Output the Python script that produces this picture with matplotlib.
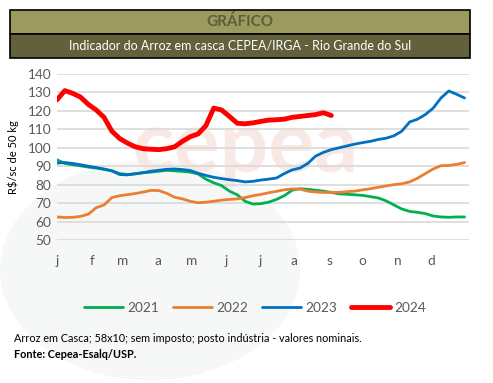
import numpy as np
import matplotlib
matplotlib.use("Agg")
import matplotlib.pyplot as plt
from matplotlib.patches import Rectangle, Ellipse

plt.rcParams['font.family'] = ['Lato', 'DejaVu Sans']

months = ['j', 'f', 'm', 'a', 'm', 'j', 'j', 'a', 's', 'o', 'n', 'd']
month_start_days = [0, 31, 59, 90, 120, 151, 181, 212, 243, 273, 304, 334]

# weekly values (R$/sc de 50 kg)
y2021 = [93.5, 91.5, 90.8, 90.2, 89.5, 89.0, 88.3, 87.5, 86.0, 85.5, 85.8, 86.5, 86.8, 87.3,
         87.8, 87.5, 87.2, 86.8, 85.8, 83.0, 81.0, 79.5, 76.5, 74.5, 71.0, 69.5, 69.7, 70.5,
         72.0, 74.0, 77.0, 77.8, 77.5, 77.0, 76.5, 75.8, 75.0, 74.8, 74.5, 74.2, 73.5, 72.8,
         71.2, 69.0, 66.8, 65.5, 65.0, 64.3, 63.0, 62.5, 62.3, 62.5, 62.5]
y2022 = [62.5, 62.2, 62.3, 62.8, 64.0, 67.5, 69.0, 73.0, 74.0, 74.6, 75.2, 76.0, 76.9, 76.8,
         75.3, 73.2, 72.3, 71.0, 70.2, 70.5, 71.0, 71.6, 72.0, 72.3, 73.0, 74.0, 74.7, 75.6,
         76.4, 77.2, 77.7, 77.6, 76.5, 76.0, 75.8, 75.8, 75.8, 76.2, 76.5, 77.2, 77.8, 78.6,
         79.3, 80.0, 80.5, 81.5, 83.5, 86.0, 88.5, 90.3, 90.4, 91.0, 92.0]
y2023 = [91.7, 92.0, 91.5, 90.8, 90.0, 89.3, 88.5, 87.5, 85.5, 85.3, 86.0, 86.5, 87.3, 87.8,
         88.3, 88.5, 88.2, 87.7, 86.2, 85.0, 84.0, 83.3, 82.7, 82.2, 81.5, 81.8, 82.5, 83.0,
         83.6, 86.0, 88.0, 89.0, 91.5, 95.5, 97.5, 99.0, 100.0, 101.0, 102.0, 102.8, 103.5,
         104.5, 105.2, 106.5, 109.0, 114.0, 115.5, 118.0, 121.5, 127.0, 130.8, 129.0, 127.0]
y2024 = [126.0, 131.0, 129.5, 127.5, 123.5, 120.5, 116.5, 109.0, 105.0, 102.5, 100.5, 99.5,
         99.2, 99.0, 99.5, 100.5, 103.5, 106.0, 107.5, 112.0, 121.5, 120.5, 117.0, 113.3,
         113.0, 113.5, 114.3, 115.0, 115.2, 115.5, 116.5, 117.0, 117.5, 118.0, 119.0, 117.5]

series = [('2021', y2021, '#00B050', 2.0),
          ('2022', y2022, '#ED7D31', 2.0),
          ('2023', y2023, '#0070C0', 2.0),
          ('2024', y2024, '#FF0000', 3.5)]

W, H = 493, 383
fig = plt.figure(figsize=(W / 100, H / 100), dpi=100)

def fx(px):
    return px / W

def fy(py):
    return 1 - py / H

# faint watermark background
fig.add_artist(Ellipse((fx(150), fy(270)), fx(300), 1 - fy(220), transform=fig.transFigure,
                       facecolor='#f5f8f6', edgecolor='none', zorder=0))
fig.text(fx(245), fy(148), 'cepea', fontsize=62, fontweight='bold', color='#f8e9e4',
         ha='center', va='center', zorder=0.2)

# header boxes
fig.add_artist(Rectangle((fx(10), fy(34)), fx(460), fy(10) - fy(34), transform=fig.transFigure,
                         facecolor='#9b9a5f', edgecolor='black', lw=1.2, zorder=1))
fig.add_artist(Rectangle((fx(10), fy(58)), fx(460), fy(34) - fy(58), transform=fig.transFigure,
                         facecolor='#63613b', edgecolor='black', lw=1.2, zorder=1))
fig.text(fx(240), fy(22), 'GRÁFICO', fontsize=11, fontweight='bold', color='#5f5d3a',
         ha='center', va='center', zorder=2)
fig.text(fx(240), fy(46), 'Indicador do Arroz em casca CEPEA/IRGA - Rio Grande do Sul',
         fontsize=9, color='white', ha='center', va='center', zorder=2)

ax = fig.add_axes([fx(57), fy(240), fx(469) - fx(57), fy(74) - fy(240)])
ax.set_zorder(1)
ax.patch.set_alpha(0)

for name, vals, col, lw in series:
    x = np.arange(len(vals)) * 7
    ax.plot(x, vals, color=col, lw=lw, label=name, solid_capstyle='round', zorder=3)

ax.set_xlim(0, 368)
ax.set_ylim(50, 140)
ax.set_yticks(np.arange(50, 141, 10))
ax.set_xticks(month_start_days)
ax.set_xticklabels(months)
ax.grid(axis='y', color='#d9d9d9', lw=1.2, zorder=0)
ax.set_axisbelow(True)
for s in ax.spines.values():
    s.set_visible(False)
ax.tick_params(axis='both', length=0, colors='#595959', labelsize=9.8)
ax.tick_params(axis='x', pad=11)
ax.tick_params(axis='y', pad=4)
ax.set_ylabel('R$/sc de 50 kg', fontsize=8, color='black', labelpad=6)

leg = fig.legend(loc='center', bbox_to_anchor=(fx(255), fy(308)), ncol=4, frameon=False,
                 fontsize=9.8, handlelength=2.9, columnspacing=1.0, handletextpad=0.3)
for t in leg.get_texts():
    t.set_color('#595959')

fig.text(fx(14), fy(338), 'Arroz em Casca; 58x10; sem imposto; posto indústria - valores nominais.',
         fontsize=7.8, color='black', ha='left', va='center')
fig.text(fx(14), fy(354), 'Fonte: Cepea-Esalq/USP.', fontsize=7.8, fontweight='bold',
         color='black', ha='left', va='center')

fig.savefig('out.png', dpi=100)
